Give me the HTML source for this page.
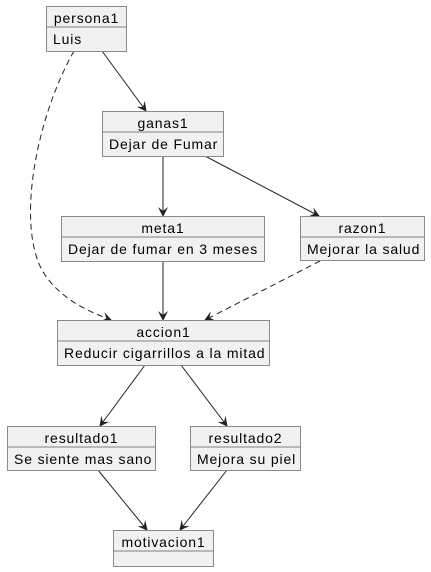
<!DOCTYPE html>
<html><head><style>
body{margin:0;background:#fff;width:431px;height:572px;position:relative;overflow:hidden;font-family:"Liberation Sans",sans-serif;font-size:14px;letter-spacing:0.85px;color:#000}
.o{position:absolute;background:#f1f1f1;border:1px solid #8a8a8a;box-sizing:border-box}
.h{height:21px;line-height:21px;text-align:center;border-bottom:2px solid #b8b8b8;box-sizing:border-box;padding-top:1px}
.b{height:22px;line-height:22px;padding-left:6px;white-space:nowrap}
svg{position:absolute;left:0;top:0}
</style></head><body>
<svg width="431" height="572" viewBox="0 0 431 572">
<defs><marker id="a" viewBox="0 0 10 10" refX="9" refY="5" markerWidth="10" markerHeight="10" orient="auto" markerUnits="userSpaceOnUse"><path d="M0,0 L10,5 L0,10 L4,5 Z" fill="#222"/></marker></defs>
<g stroke="#222" stroke-width="1" fill="none">
<line x1="102" y1="51" x2="146" y2="111" marker-end="url(#a)"/>
<line x1="163" y1="156" x2="163" y2="216" marker-end="url(#a)"/>
<line x1="205" y1="156" x2="319" y2="216" marker-end="url(#a)"/>
<line x1="163" y1="261" x2="163" y2="320" marker-end="url(#a)"/>
<line x1="320" y1="261" x2="205" y2="320" stroke-dasharray="6,4" marker-end="url(#a)"/>
<path d="M74,51 C35,120 15,230 45,275 C62,300 90,312 111,320" stroke-dasharray="6,4" marker-end="url(#a)"/>
<line x1="145" y1="365" x2="100" y2="426" marker-end="url(#a)"/>
<line x1="181" y1="365" x2="227" y2="426" marker-end="url(#a)"/>
<line x1="98" y1="470" x2="147" y2="530" marker-end="url(#a)"/>
<line x1="227" y1="470" x2="180" y2="530" marker-end="url(#a)"/>
</g></svg>
<div class="o" style="left:46px;top:6px;width:81px;height:46px"><div class="h">persona1</div><div class="b">Luis</div></div>
<div class="o" style="left:102px;top:111px;width:122px;height:46px"><div class="h">ganas1</div><div class="b">Dejar de Fumar</div></div>
<div class="o" style="left:61px;top:216px;width:204px;height:46px"><div class="h">meta1</div><div class="b">Dejar de fumar en 3 meses</div></div>
<div class="o" style="left:300px;top:216px;width:125px;height:45px"><div class="h">razon1</div><div class="b">Mejorar la salud</div></div>
<div class="o" style="left:57px;top:320px;width:213px;height:46px"><div class="h">accion1</div><div class="b">Reducir cigarrillos a la mitad</div></div>
<div class="o" style="left:7px;top:426px;width:149px;height:45px"><div class="h">resultado1</div><div class="b">Se siente mas sano</div></div>
<div class="o" style="left:190px;top:426px;width:111px;height:45px"><div class="h">resultado2</div><div class="b">Mejora su piel</div></div>
<div class="o" style="left:113px;top:530px;width:101px;height:37px"><div class="h">motivacion1</div></div>
</body></html>
